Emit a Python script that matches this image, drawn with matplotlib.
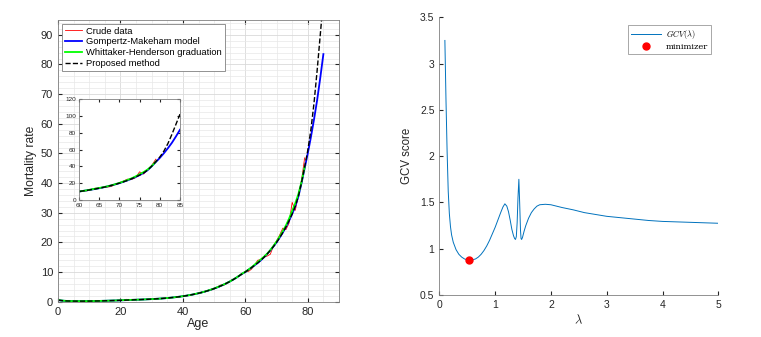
import matplotlib.pyplot as plt

plt.rcParams['font.family'] = ['Liberation Sans', 'DejaVu Sans']
plt.rcParams['mathtext.fontset'] = 'cm'

# ---- left panel data (mortality rate by age) ----
ages_crude = list(range(0, 80))
crude = [0.7, 0.4, 0.3, 0.2, 0.25, 0.2, 0.15, 0.2, 0.18, 0.22,
         0.2, 0.25, 0.22, 0.3, 0.25, 0.35, 0.3, 0.4, 0.35, 0.45,
         0.5, 0.6, 0.8, 0.55, 0.6, 0.7, 0.65, 0.8, 0.75, 0.85,
         0.9, 0.85, 1.05, 1.0, 1.2, 1.15, 1.4, 1.4, 1.6, 1.65,
         1.9, 1.95, 2.3, 2.3, 2.7, 2.75, 3.2, 3.3, 3.8, 3.9,
         4.3, 4.9, 5.6, 5.5, 6.1, 6.7, 7.5, 7.9, 8.8, 9.2,
         10.3, 10.2, 11.0, 12.5, 14.0, 14.2, 15.0, 15.4, 16.0, 18.8,
         20.5, 22.5, 24.8, 24.3, 26.5, 33.5, 30.8, 36.0, 41.0, 48.5]

ages_all = list(range(0, 86))
gompertz = [0.55, 0.40, 0.30, 0.25, 0.22, 0.20, 0.19, 0.19, 0.19, 0.20,
            0.21, 0.22, 0.24, 0.26, 0.28, 0.31, 0.34, 0.37, 0.40, 0.43,
            0.46, 0.50, 0.54, 0.58, 0.62, 0.66, 0.70, 0.74, 0.78, 0.83,
            0.88, 0.94, 1.00, 1.07, 1.15, 1.24, 1.34, 1.45, 1.57, 1.70,
            1.85, 2.01, 2.19, 2.39, 2.61, 2.85, 3.11, 3.40, 3.71, 4.05,
            4.42, 4.82, 5.26, 5.73, 6.24, 6.79, 7.38, 8.02, 8.70, 9.43,
            10.0, 10.8, 11.5, 12.3, 13.1, 14.0, 15.0, 16.1, 17.3, 18.6,
            20.0, 21.6, 23.3, 25.2, 27.3, 29.6, 32.2, 35.5, 40.0, 45.0,
            50.0, 55.5, 61.5, 68.0, 75.5, 83.5]

wh_grad = [0.6, 0.42, 0.31, 0.25, 0.22, 0.2, 0.19, 0.19, 0.2, 0.2,
           0.21, 0.22, 0.24, 0.26, 0.28, 0.31, 0.34, 0.37, 0.4, 0.44,
           0.48, 0.53, 0.57, 0.6, 0.63, 0.67, 0.7, 0.74, 0.78, 0.83,
           0.88, 0.94, 1.0, 1.07, 1.15, 1.24, 1.34, 1.45, 1.57, 1.7,
           1.86, 2.02, 2.2, 2.4, 2.62, 2.86, 3.12, 3.42, 3.74, 4.08,
           4.46, 4.88, 5.3, 5.76, 6.26, 6.8, 7.4, 8.04, 8.74, 9.5,
           10.1, 10.8, 11.6, 12.5, 13.4, 14.3, 15.2, 16.2, 17.4, 18.8,
           20.3, 22.0, 23.8, 25.7, 28.0, 30.6, 33.2, 36.3, 40.4, 45.5]

proposed = [0.55, 0.40, 0.30, 0.25, 0.22, 0.20, 0.19, 0.19, 0.19, 0.20,
            0.21, 0.22, 0.24, 0.26, 0.28, 0.31, 0.34, 0.37, 0.40, 0.43,
            0.46, 0.50, 0.54, 0.58, 0.62, 0.66, 0.70, 0.74, 0.78, 0.83,
            0.88, 0.94, 1.00, 1.07, 1.15, 1.24, 1.34, 1.45, 1.57, 1.70,
            1.85, 2.01, 2.19, 2.39, 2.61, 2.85, 3.11, 3.40, 3.71, 4.05,
            4.42, 4.82, 5.26, 5.73, 6.24, 6.79, 7.38, 8.02, 8.70, 9.43,
            10.0, 10.8, 11.5, 12.3, 13.1, 14.0, 15.0, 16.1, 17.3, 18.6,
            20.0, 21.6, 23.3, 25.2, 27.3, 29.6, 32.2, 35.6, 40.2, 45.5,
            51.0, 58.0, 67.0, 78.0, 90.0, 102.0]

# ---- right panel data (GCV score) ----
lam = [0.10, 0.12, 0.14, 0.16, 0.18, 0.20, 0.22, 0.25, 0.30, 0.35,
       0.40, 0.45, 0.50, 0.55, 0.60, 0.65, 0.70, 0.75, 0.80, 0.85,
       0.90, 0.95, 1.00, 1.05, 1.10, 1.14, 1.175, 1.21, 1.24, 1.27,
       1.30, 1.33, 1.35, 1.365, 1.38, 1.395, 1.41, 1.426, 1.44, 1.455,
       1.465, 1.475, 1.49, 1.52, 1.55, 1.60, 1.65, 1.70, 1.75, 1.80,
       1.90, 2.00, 2.10, 2.20, 2.40, 2.60, 2.80, 3.00, 3.25, 3.50,
       3.75, 4.00, 4.25, 4.50, 4.75, 5.00]
gcv = [3.25, 2.60, 2.05, 1.62, 1.38, 1.24, 1.15, 1.07, 0.99, 0.94,
       0.91, 0.89, 0.88, 0.875, 0.88, 0.89, 0.91, 0.94, 0.98, 1.03,
       1.09, 1.16, 1.23, 1.31, 1.39, 1.45, 1.485, 1.46, 1.40, 1.31,
       1.21, 1.14, 1.11, 1.10, 1.13, 1.28, 1.55, 1.75, 1.50, 1.20,
       1.11, 1.10, 1.12, 1.19, 1.25, 1.33, 1.39, 1.43, 1.46, 1.475,
       1.48, 1.475, 1.46, 1.445, 1.42, 1.39, 1.37, 1.35, 1.335, 1.32,
       1.305, 1.295, 1.29, 1.285, 1.28, 1.275]
lam_min = 0.53
gcv_min = 0.88

axcol = (0.15, 0.15, 0.15)

fig = plt.figure(figsize=(7.61, 3.37), dpi=100)

# ---------------- left panel ----------------
ax = fig.add_axes([58/761, 35.3/337, 281/761, 281.7/337])
ax.plot(ages_crude, crude, color='red', lw=0.6, label='Crude data')
ax.plot(ages_all, gompertz, color='blue', lw=1.3, label='Gompertz-Makeham model')
ax.plot(ages_crude, wh_grad, color=(0, 1, 0), lw=1.3, label='Whittaker-Henderson graduation')
ax.plot(ages_all, proposed, 'k--', lw=1.0, label='Proposed method')
ax.set_xlim(0, 90)
ax.set_ylim(0, 95)
ax.set_xticks(range(0, 81, 20))
ax.set_yticks(range(0, 91, 10))
ax.set_xticks(range(0, 91, 5), minor=True)
ax.set_yticks(range(0, 96, 2), minor=True)
ax.grid(True, which='major', color=(0.85, 0.85, 0.85), lw=0.6)
ax.grid(True, which='minor', color=(0.91, 0.91, 0.91), lw=0.5)
ax.set_axisbelow(True)
ax.tick_params(which='both', direction='in', top=True, right=True,
               colors=axcol, labelsize=8, length=3)
ax.tick_params(which='minor', length=0)
for s in ax.spines.values():
    s.set_color((0.5, 0.5, 0.5))
    s.set_linewidth(0.6)
ax.set_xlabel('Age', fontsize=9, color=axcol, labelpad=1)
ax.set_ylabel('Mortality rate', fontsize=8.7, color=axcol, labelpad=3)
leg = ax.legend(loc='upper left', fontsize=6.75, frameon=True, fancybox=False,
                handlelength=1.9, borderpad=0.3, labelspacing=0.2,
                handletextpad=0.4, borderaxespad=0.4)
leg.get_frame().set_edgecolor((0.5, 0.5, 0.5))
leg.get_frame().set_linewidth(0.6)
leg.get_frame().set_alpha(1)

# inset
axi = fig.add_axes([79/761, (337-200)/337, 101/761, 101/337])
axi.plot(ages_crude, crude, color='red', lw=0.6)
axi.plot(ages_all, gompertz, color='blue', lw=1.3)
axi.plot(ages_crude, wh_grad, color=(0, 1, 0), lw=1.3)
axi.plot(ages_all, proposed, 'k--', lw=1.0)
axi.set_xlim(60, 85)
axi.set_ylim(0, 120)
axi.set_xticks(range(60, 86, 5))
axi.set_yticks(range(0, 121, 20))
axi.tick_params(direction='in', top=True, right=True, colors=axcol,
                labelsize=4.6, length=2)
axi.tick_params(axis='x', pad=2.5)
axi.tick_params(axis='y', pad=2)
for s in axi.spines.values():
    s.set_color((0.5, 0.5, 0.5))
    s.set_linewidth(0.6)

# ---------------- right panel ----------------
ax2 = fig.add_axes([439.3/761, 42/337, 279/761, 277.7/337])
ax2.plot(lam, gcv, color=(0, 0.447, 0.741), lw=0.7, label=r'$GCV(\lambda)$')
ax2.plot([lam_min], [gcv_min], 'o', color='red', ms=5, ls='none', label='minimizer')
ax2.set_xlim(0, 5)
ax2.set_ylim(0.5, 3.5)
ax2.set_xticks(range(0, 6))
ax2.set_yticks([0.5, 1, 1.5, 2, 2.5, 3, 3.5])
ax2.set_yticklabels(['0.5', '1', '1.5', '2', '2.5', '3', '3.5'])
ax2.spines['top'].set_visible(False)
ax2.spines['right'].set_visible(False)
for s in ['left', 'bottom']:
    ax2.spines[s].set_color((0.5, 0.5, 0.5))
    ax2.spines[s].set_linewidth(0.6)
ax2.tick_params(direction='in', colors=axcol, labelsize=7.5, length=3)
ax2.set_xlabel(r'$\lambda$', fontsize=9, color=axcol, labelpad=3)
ax2.set_ylabel('GCV score', fontsize=8.3, color=axcol, labelpad=5)
leg2 = ax2.legend(loc='upper right', frameon=True, fancybox=False,
                  handlelength=3.7, borderpad=0.35, labelspacing=0.3,
                  handletextpad=0.5, borderaxespad=0.9,
                  prop={'family': 'DejaVu Serif', 'size': 6})
leg2.get_frame().set_edgecolor((0.5, 0.5, 0.5))
leg2.get_frame().set_linewidth(0.6)

plt.savefig('out.png', dpi=100)
